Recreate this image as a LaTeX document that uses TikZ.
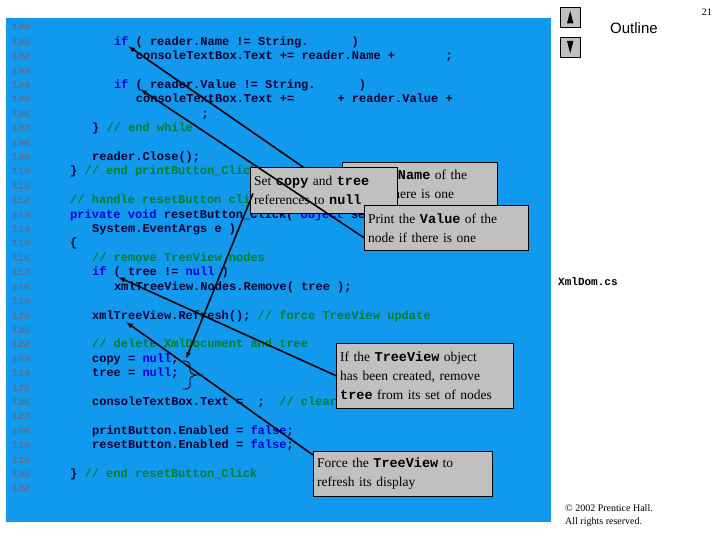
\documentclass[tikz,border=0pt]{standalone}
\usetikzlibrary{arrows.meta}
\usepackage{fontspec}
\setmainfont{Liberation Serif}
\newfontfamily\codefont{Liberation Mono}
\newfontfamily\sansf{Liberation Sans}
\definecolor{panel}{RGB}{17,153,238}
\definecolor{kw}{RGB}{0,0,210}
\definecolor{cm}{RGB}{0,128,40}
\definecolor{lnum}{RGB}{95,110,140}
\definecolor{codec}{RGB}{0,0,50}
\definecolor{boxg}{RGB}{192,192,192}
\newcommand{\kw}[1]{{\color{kw}#1}}
\newcommand{\cm}[1]{{\color{cm}#1}}
\newcommand{\blk}[1]{\hspace*{#1\dimexpr 0.6em\relax}}
\newcommand{\mb}[1]{{\codefont\bfseries #1}}
\begin{document}
\begin{tikzpicture}[x=1pt,y=1pt,
  code/.style={anchor=base west,inner sep=0pt,font=\codefont\bfseries\fontsize{12}{14}\selectfont,text=codec},
  num/.style={anchor=base west,inner sep=0pt,font=\codefont\bfseries\fontsize{10}{11}\selectfont,text=lnum},
  call/.style={draw=black,fill=boxg,anchor=north west,align=left,inner sep=4pt,font=\fontsize{13.5}{19}\selectfont},
  arr/.style={-{Latex[length=7pt,width=5pt]},line width=1.6pt,black}]
\useasboundingbox (0,0) rectangle (720,-540);
\fill[panel] (6,-18) rectangle (551,-522);
\foreach \n in {100,...,132}{
  \node[num] (n\n) at (12,{-31-(\n-100)*14.4}) {\n};}
\newcommand{\cl}[3]{\node[code] (c#1) at ({70+#2*7.3},{-31-(#1-100)*14.4}) {#3};}
\cl{101}{6}{\kw{if} ( reader.Name != String.\blk{6})}
\cl{102}{9}{consoleTextBox.Text += reader.Name +\blk{7};}
\cl{104}{6}{\kw{if} ( reader.Value != String.\blk{6})}
\cl{105}{9}{consoleTextBox.Text +=\blk{6}+ reader.Value +}
\cl{106}{18}{;}
\cl{107}{3}{\} \cm{// end while}}
\cl{109}{3}{reader.Close();}
\cl{110}{0}{\} \cm{// end printButton\_Click}}
\cl{112}{0}{\cm{// handle resetButton click}}
\cl{113}{0}{\kw{private void} resetButton\_Click( \kw{object} sender,}
\cl{114}{3}{System.EventArgs e )}
\cl{115}{0}{\{}
\cl{116}{3}{\cm{// remove TreeView nodes}}
\cl{117}{3}{\kw{if} ( tree != \kw{null} )}
\cl{118}{6}{xmlTreeView.Nodes.Remove( tree );}
\cl{120}{3}{xmlTreeView.Refresh(); \cm{// force TreeView update}}
\cl{122}{3}{\cm{// delete XmlDocument and tree}}
\cl{123}{3}{copy = \kw{null};}
\cl{124}{3}{tree = \kw{null};}
\cl{126}{3}{consoleTextBox.Text =\blk{2};\blk{2}\cm{// clear textbox}}
\cl{128}{3}{printButton.Enabled = \kw{false};}
\cl{129}{3}{resetButton.Enabled = \kw{false};}
\cl{131}{0}{\} \cm{// end resetButton\_Click}}
% brace
\draw[black,line width=0.8pt] (183,-361) .. controls (192,-361) and (190,-366) .. (190,-370) .. controls (190,-373) .. (196,-375) -- (203,-375);
\draw[black,line width=0.8pt] (196,-375) .. controls (190,-377) .. (190,-381) .. controls (190,-386) and (192,-389) .. (183,-389);
% callouts anchors
\coordinate (t1) at (128,-46);
\coordinate (t2) at (140,-89);
\coordinate (t3) at (186,-359);
\coordinate (t4) at (118,-277);
\coordinate (t5) at (126,-322);
\node[call,text width=147pt,minimum height=45pt] (b1) at (342,-162) {Print the \mb{Name} of the\\node if there is one};
\draw[arr] (342,-194) -- (t1);
\node[call,text width=139pt,minimum height=46pt] (b2) at (250,-167) {Set \mb{copy} and \mb{tree}\\references to \mb{null}};
\draw[arr] (b2.south west) ++(3,20) -- (t3);
\node[call,text width=156pt,minimum height=45pt] (b3) at (364,-205) {Print the \mb{Value} of the\\node if there is one};
\draw[arr] (b3.west) ++(0,-10) -- (t2);
\node[call,text width=169pt,minimum height=65pt] (b4) at (336,-343) {If the \mb{TreeView} object\\has been created, remove\\\mb{tree} from its set of nodes};
\draw[arr] (b4.west) -- (t4);
\node[call,text width=171pt,minimum height=45pt] (b5) at (313,-451) {Force the \mb{TreeView} to\\refresh its display};
\draw[arr] (b5.north west) ++(0,-4) -- (t5);
% right side
\node[draw=black,fill=boxg,minimum size=20pt,inner sep=0pt,anchor=north west] (up) at (560,-7) {};
\fill[black] ([yshift=-4pt]up.north) -- ([shift={(7,4)}]up.south west) -- ([shift={(-7,4)}]up.south east) -- cycle;
\node[draw=black,fill=boxg,minimum size=20pt,inner sep=0pt,anchor=north west] (dn) at (560,-37) {};
\fill[black] ([yshift=4pt]dn.south) -- ([shift={(7,-4)}]dn.north west) -- ([shift={(-7,-4)}]dn.north east) -- cycle;
\node[font=\sansf\fontsize{15}{17}\selectfont,anchor=west,inner sep=0pt] (ol) at (610,-28) {Outline};
\node[font=\fontsize{10}{12}\selectfont,anchor=east,inner sep=0pt] (pg) at (712,-12) {21};
\node[font=\codefont\bfseries\fontsize{11}{13}\selectfont,anchor=west,inner sep=0pt] (fn) at (558,-282) {XmlDom.cs};
\node[font=\fontsize{10}{13}\selectfont,anchor=north west,align=left,inner sep=0pt] (cp) at (565,-504) {\textcopyright\ 2002 Prentice Hall.\\All rights reserved.};
\end{tikzpicture}
\end{document}
